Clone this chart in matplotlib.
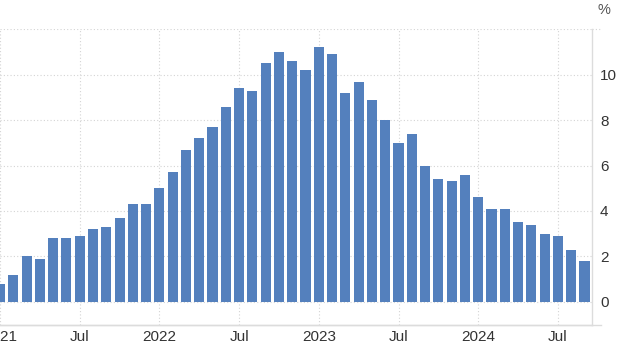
import matplotlib
matplotlib.use("Agg")
import matplotlib.pyplot as plt
from matplotlib.lines import Line2D

plt.rcParams['font.family'] = ['Liberation Sans', 'DejaVu Sans']

# Monthly values, Jan 2021 .. Sep 2024 (%)
values_2021 = [0.8, 1.2, 2.0, 1.9, 2.8, 2.8, 2.9, 3.2, 3.3, 3.7, 4.3, 4.3]
values_2022 = [5.0, 5.7, 6.7, 7.2, 7.7, 8.6, 9.4, 9.3, 10.5, 11.0, 10.6, 10.2]
values_2023 = [11.2, 10.9, 9.2, 9.7, 8.9, 8.0, 7.0, 7.4, 6.0, 5.4, 5.3, 5.6]
values_2024 = [4.6, 4.1, 4.1, 3.5, 3.4, 3.0, 2.9, 2.3, 1.8]
values = values_2021 + values_2022 + values_2023 + values_2024

x_tick_labels = ["2021", "Jul", "2022", "Jul", "2023", "Jul", "2024", "Jul"]
x_tick_months = [0, 6, 12, 18, 24, 30, 36, 42]
y_ticks = [0, 2, 4, 6, 8, 10, 12]
y_tick_labels = ["0", "2", "4", "6", "8", "10", ""]

W, H = 617, 351
fig = plt.figure(figsize=(W / 100, H / 100), dpi=100)
ax_left, ax_right = 0, 591.7
ax_top, ax_bottom = 29.3, 324.5
ax = fig.add_axes([ax_left / W, (H - ax_bottom) / H,
                   (ax_right - ax_left) / W, (ax_bottom - ax_top) / H])

px_per_month = 13.306
x0 = 1.0 / px_per_month
ax.set_xlim(x0, x0 + (ax_right - ax_left) / px_per_month)
ax.set_ylim(-1, 12)

idx = list(range(len(values)))
ax.bar(idx, values, width=0.76, color="#5480bd", zorder=2)

ax.set_axisbelow(True)
ax.grid(True, color="#d4d4d4", linestyle=(0, (1, 2)), linewidth=0.8)

ax.set_xticks(x_tick_months)
ax.set_xticklabels(x_tick_labels)
ax.set_yticks(y_ticks)
ax.set_yticklabels(y_tick_labels)
ax.yaxis.tick_right()
ax.tick_params(axis="both", length=0, labelsize=11, colors="#333333")
ax.tick_params(axis="y", pad=6)
ax.tick_params(axis="x", pad=4)

for s in ["top", "left"]:
    ax.spines[s].set_visible(False)
for s in ["right", "bottom"]:
    ax.spines[s].set_color("#dcdcdc")
    ax.spines[s].set_linewidth(1.0)

# bottom line and top gridline extend a bit past the right spine
ext = 601 / (ax_right - ax_left)
ax.add_line(Line2D([0, ext], [0, 0], transform=ax.transAxes,
                   color="#dcdcdc", linewidth=1.0, clip_on=False))
ax.add_line(Line2D([1, ext], [1, 1], transform=ax.transAxes,
                   color="#d4d4d4", linewidth=0.8, linestyle=(0, (1, 2)),
                   clip_on=False))

fig.text(597 / W, 1 - 10 / H, "%", ha="left", va="center",
         fontsize=10.5, color="#555555")

fig.savefig("out.png", dpi=100)
